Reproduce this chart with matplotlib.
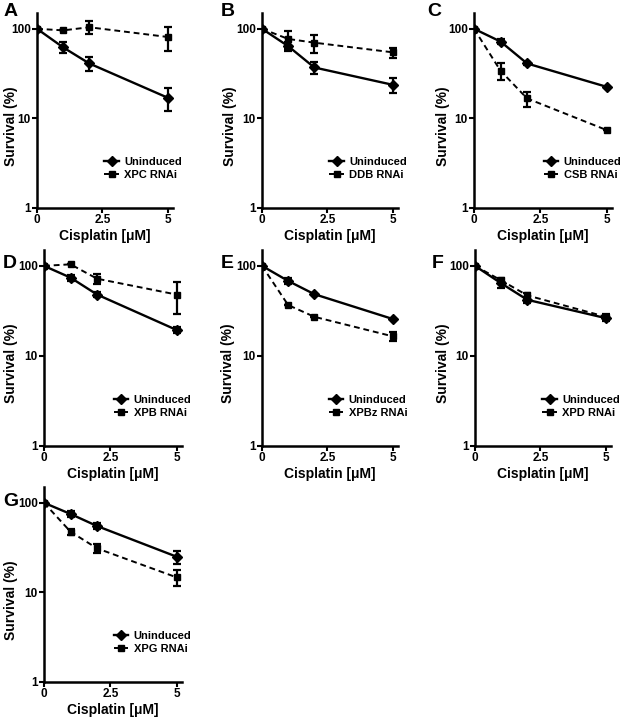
import matplotlib
matplotlib.use("Agg")
import matplotlib.pyplot as plt
from matplotlib.ticker import FixedLocator, NullLocator

plt.rcParams['font.family'] = ['Liberation Sans', 'DejaVu Sans']
plt.rcParams['font.weight'] = 'bold'

dose = [0, 1, 2, 5]

# panel letters and RNAi labels
panels = ['A', 'B', 'C', 'D', 'E', 'F', 'G']
rnai_names = ['XPC RNAi', 'DDB RNAi', 'CSB RNAi', 'XPB RNAi', 'XPBz RNAi', 'XPD RNAi', 'XPG RNAi']

# survival (%) means
unind_mean = [
    [100, 62, 41, 17],
    [100, 64, 37, 23.7],
    [100, 72, 41, 22.5],
    [100, 74, 48, 19.4],
    [100, 68, 48.5, 25.7],
    [100, 64, 42, 26.3],
    [100, 75, 55, 25],
]
unind_err = [
    [0, 9, 7, 5],
    [0, 7, 6, 4.4],
    [0, 5, 2, 0],
    [0, 6, 3, 1.6],
    [0, 5, 0, 0],
    [0, 7, 3, 2],
    [0, 6, 4, 4],
]
rnai_mean = [
    [100, 96, 104, 81],
    [100, 77, 70, 54.6],
    [100, 34, 16.7, 7.4],
    [100, 104, 72, 48],
    [100, 36.7, 27.2, 16.5],
    [100, 69, 47, 27.2],
    [100, 47.5, 31, 14.7],
]
rnai_err = [
    [0, 0, 17, 25],
    [0, 18, 16, 7],
    [0, 7, 3.2, 0],
    [0, 0, 9, 19],
    [0, 0, 0, 2],
    [0, 4, 3, 2],
    [0, 4, 3.6, 3],
]

W, H = 627, 720
fig = plt.figure(figsize=(W / 100, H / 100), dpi=100)

# axes boxes in pixels: left, y of axis bottom (from top), width, height
boxes = [
    (37, 208, 136, 195), (262, 208, 136, 195), (474, 208, 138, 195),
    (44, 446, 138, 196), (262, 446, 136, 196), (475, 446, 136, 196),
    (44, 682, 138, 195),
]
letter_xy = [
    (4, 12), (221, 12), (427, 12),
    (3, 263), (221, 263), (432, 263),
    (3, 501),
]
# right edge of the y label, pixels left of the y axis
ylab_off = [19, 25, 24, 26, 27, 25, 26]

for i in range(7):
    l, b, w, h = boxes[i]
    ax = fig.add_axes([l / W, (H - b) / H, w / W, h / H])
    ax.errorbar(dose, unind_mean[i], yerr=unind_err[i], fmt='none', ecolor='black',
                capsize=3, capthick=1.6, elinewidth=1.6, zorder=3)
    ax.errorbar(dose, rnai_mean[i], yerr=rnai_err[i], fmt='none', ecolor='black',
                capsize=3, capthick=1.6, elinewidth=1.6, zorder=3)
    ax.plot(dose, unind_mean[i], color='black', lw=1.7, marker='D', ms=5,
            label='Uninduced', zorder=4)
    ax.plot(dose, rnai_mean[i], color='black', lw=1.4, ls=(0, (3, 2)), marker='s',
            ms=5, label=rnai_names[i], zorder=4)
    ax.set_yscale('log')
    ax.set_ylim(1, 150)
    ax.set_xlim(0, 5.2)
    ax.yaxis.set_major_locator(FixedLocator([1, 10, 100]))
    ax.yaxis.set_minor_locator(NullLocator())
    ax.set_yticklabels(['1', '10', '100'])
    ax.set_xticks([0, 2.5, 5])
    ax.set_xticklabels(['0', '2.5', '5'])
    for s in ['top', 'right']:
        ax.spines[s].set_visible(False)
    for s in ['left', 'bottom']:
        ax.spines[s].set_linewidth(1.8)
    ax.tick_params(width=1.5, length=3.5, labelsize=8.5, pad=1)
    for t in ax.get_xticklabels() + ax.get_yticklabels():
        t.set_fontweight('bold')
    ax.set_xlabel('Cisplatin [μM]', fontsize=10, fontweight='bold', labelpad=2)
    ax.set_ylabel('Survival (%)', fontsize=10, fontweight='bold')
    ax.yaxis.set_label_coords(-ylab_off[i] / w, 0.42)
    leg = ax.legend(loc='lower right', bbox_to_anchor=(1.1, 0.12), frameon=False,
                    fontsize=8, handlelength=1.3, handletextpad=0.5,
                    labelspacing=0.25, borderaxespad=0)
    for t in leg.get_texts():
        t.set_fontweight('bold')
    lx, ly = letter_xy[i]
    fig.text(lx / W, 1 - ly / H, panels[i], fontsize=14, fontweight='bold',
             va='center', ha='left')

fig.savefig('out.png', dpi=100)
